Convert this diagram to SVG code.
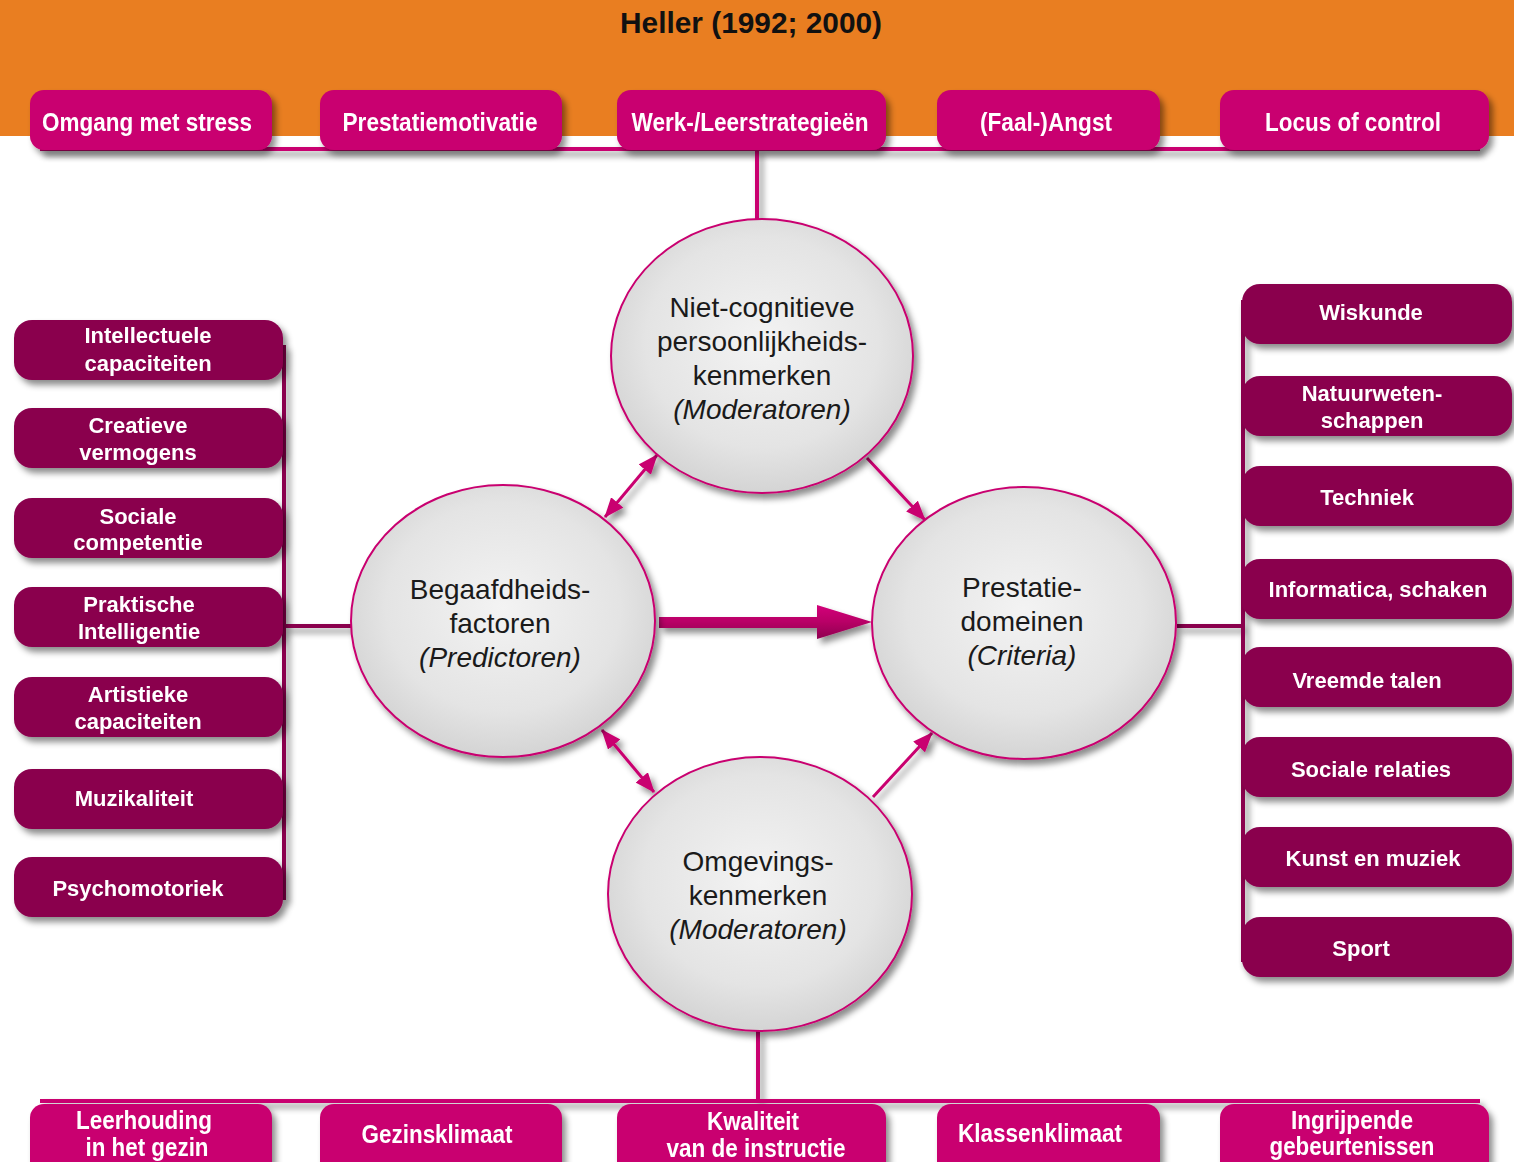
<svg xmlns="http://www.w3.org/2000/svg" width="1514" height="1162" viewBox="0 0 1514 1162">
<defs>
<style>
.hb{fill:#C9006F}
.db{fill:#8A004E}
.tt{font-family:"Liberation Sans",Arial,sans-serif;font-weight:bold;fill:#fff;font-size:25px;text-anchor:middle}
.dt{font-family:"Liberation Sans",Arial,sans-serif;font-weight:bold;fill:#fff;font-size:22px;text-anchor:middle}
.ct{font-family:"Liberation Sans",Arial,sans-serif;fill:#1a1a1a;font-size:28px;text-anchor:middle}
.it{font-style:italic}
.circ{fill:url(#cg);stroke:#C9006F;stroke-width:2}
.thin{stroke:#C9006F;stroke-width:3;fill:none}
</style>
<filter id="sh" x="-20%" y="-20%" width="150%" height="160%">
<feDropShadow dx="4" dy="5" stdDeviation="3" flood-color="#000" flood-opacity="0.45"/>
</filter>
<radialGradient id="cg" cx="0.5" cy="0.45" r="0.55">
<stop offset="0" stop-color="#f3f3f3"/>
<stop offset="0.7" stop-color="#e4e4e4"/>
<stop offset="1" stop-color="#d4d4d4"/>
</radialGradient>
<linearGradient id="ag" x1="0" y1="0" x2="0" y2="1">
<stop offset="0" stop-color="#d3007a"/>
<stop offset="0.5" stop-color="#b80066"/>
<stop offset="1" stop-color="#8e0050"/>
</linearGradient>
<marker id="ah" markerUnits="userSpaceOnUse" markerWidth="20" markerHeight="16" refX="19" refY="8" orient="auto-start-reverse">
<path d="M0,0 L20,8 L0,16 z" fill="#C9006F"/>
</marker>
</defs>

<rect x="0" y="0" width="1514" height="136" fill="#E97E21"/>
<text x="751" y="33" font-family="'Liberation Sans',Arial,sans-serif" font-weight="bold" font-size="30" fill="#111" text-anchor="middle" textLength="262" lengthAdjust="spacingAndGlyphs">Heller (1992; 2000)</text>

<g id="connectors">
<g filter="url(#sh)">
<line x1="40" y1="149" x2="1480" y2="149" stroke="#C9006F" stroke-width="4"/>
<line x1="757" y1="150" x2="757" y2="221" stroke="#C9006F" stroke-width="4"/>
<line x1="40" y1="1101" x2="1480" y2="1101" stroke="#C9006F" stroke-width="4"/>
<line x1="758" y1="1031" x2="758" y2="1101" stroke="#C9006F" stroke-width="4"/>
<line x1="284" y1="345" x2="284" y2="900" stroke="#8A004E" stroke-width="4"/>
<line x1="284" y1="626" x2="352" y2="626" stroke="#8A004E" stroke-width="4"/>
<line x1="1243" y1="300" x2="1243" y2="962" stroke="#8A004E" stroke-width="4"/>
<line x1="1177" y1="626" x2="1243" y2="626" stroke="#8A004E" stroke-width="4"/>
</g>
<g filter="url(#sh)">
<polygon points="659,617 817,617 817,605 872,622 817,639 817,628 659,628" fill="url(#ag)"/>
<line class="thin" x1="605" y1="517" x2="657" y2="455" marker-start="url(#ah)" marker-end="url(#ah)"/>
<line class="thin" x1="867" y1="458" x2="925" y2="520" marker-end="url(#ah)"/>
<line class="thin" x1="602" y1="730" x2="654" y2="792" marker-start="url(#ah)" marker-end="url(#ah)"/>
<line class="thin" x1="873" y1="797" x2="932" y2="733" marker-end="url(#ah)"/>
</g>
</g>

<g id="top-boxes" filter="url(#sh)">
<g id="t1"><rect class="hb" x="30" y="90" width="242" height="60" rx="14"/><text class="tt" x="147" y="131" textLength="210" lengthAdjust="spacingAndGlyphs">Omgang met stress</text></g>
<g id="t2"><rect class="hb" x="320" y="90" width="242" height="60" rx="14"/><text class="tt" x="440" y="131" textLength="195" lengthAdjust="spacingAndGlyphs">Prestatiemotivatie</text></g>
<g id="t3"><rect class="hb" x="617" y="90" width="269" height="60" rx="14"/><text class="tt" x="750" y="131" textLength="237" lengthAdjust="spacingAndGlyphs">Werk-/Leerstrategieën</text></g>
<g id="t4"><rect class="hb" x="937" y="90" width="223" height="60" rx="14"/><text class="tt" x="1046" y="131" textLength="132" lengthAdjust="spacingAndGlyphs">(Faal-)Angst</text></g>
<g id="t5"><rect class="hb" x="1220" y="90" width="269" height="60" rx="14"/><text class="tt" x="1353" y="131" textLength="176" lengthAdjust="spacingAndGlyphs">Locus of control</text></g>
</g>

<g id="bottom-boxes" filter="url(#sh)">
<g id="b1"><rect class="hb" x="30" y="1104" width="242" height="75" rx="14"/><text class="tt" x="144" y="1129" font-size="24" textLength="136" lengthAdjust="spacingAndGlyphs">Leerhouding</text><text class="tt" x="147" y="1156" font-size="24" textLength="123" lengthAdjust="spacingAndGlyphs">in het gezin</text></g>
<g id="b2"><rect class="hb" x="320" y="1104" width="242" height="75" rx="14"/><text class="tt" x="437" y="1143" font-size="24" textLength="151" lengthAdjust="spacingAndGlyphs">Gezinsklimaat</text></g>
<g id="b3"><rect class="hb" x="617" y="1104" width="269" height="75" rx="14"/><text class="tt" x="753" y="1130" font-size="24" textLength="92" lengthAdjust="spacingAndGlyphs">Kwaliteit</text><text class="tt" x="756" y="1157" font-size="24" textLength="179" lengthAdjust="spacingAndGlyphs">van de instructie</text></g>
<g id="b4"><rect class="hb" x="937" y="1104" width="223" height="75" rx="14"/><text class="tt" x="1040" y="1142" font-size="24" textLength="164" lengthAdjust="spacingAndGlyphs">Klassenklimaat</text></g>
<g id="b5"><rect class="hb" x="1220" y="1104" width="269" height="75" rx="14"/><text class="tt" x="1352" y="1129" font-size="24" textLength="122" lengthAdjust="spacingAndGlyphs">Ingrijpende</text><text class="tt" x="1352" y="1155" font-size="24" textLength="165" lengthAdjust="spacingAndGlyphs">gebeurtenissen</text></g>
</g>

<g id="left-boxes" filter="url(#sh)">
<g id="l1"><rect class="db" x="14" y="320" width="269" height="60" rx="18"/><text class="dt" x="148" y="343">Intellectuele</text><text class="dt" x="148" y="371">capaciteiten</text></g>
<g id="l2"><rect class="db" x="14" y="408" width="269" height="60" rx="18"/><text class="dt" x="138" y="433">Creatieve</text><text class="dt" x="138" y="460">vermogens</text></g>
<g id="l3"><rect class="db" x="14" y="498" width="269" height="60" rx="18"/><text class="dt" x="138" y="524">Sociale</text><text class="dt" x="138" y="550">competentie</text></g>
<g id="l4"><rect class="db" x="14" y="587" width="269" height="60" rx="18"/><text class="dt" x="139" y="612">Praktische</text><text class="dt" x="139" y="639">Intelligentie</text></g>
<g id="l5"><rect class="db" x="14" y="677" width="269" height="60" rx="18"/><text class="dt" x="138" y="702">Artistieke</text><text class="dt" x="138" y="729">capaciteiten</text></g>
<g id="l6"><rect class="db" x="14" y="769" width="269" height="60" rx="18"/><text class="dt" x="134" y="806">Muzikaliteit</text></g>
<g id="l7"><rect class="db" x="14" y="857" width="269" height="60" rx="18"/><text class="dt" x="138" y="896">Psychomotoriek</text></g>
</g>

<g id="right-boxes" filter="url(#sh)">
<g id="r1"><rect class="db" x="1242" y="284" width="270" height="60" rx="18"/><text class="dt" x="1371" y="320">Wiskunde</text></g>
<g id="r2"><rect class="db" x="1242" y="376" width="270" height="60" rx="18"/><text class="dt" x="1372" y="401">Natuurweten-</text><text class="dt" x="1372" y="428">schappen</text></g>
<g id="r3"><rect class="db" x="1242" y="466" width="270" height="60" rx="18"/><text class="dt" x="1367" y="505">Techniek</text></g>
<g id="r4"><rect class="db" x="1242" y="559" width="270" height="60" rx="18"/><text class="dt" x="1378" y="597">Informatica, schaken</text></g>
<g id="r5"><rect class="db" x="1242" y="647" width="270" height="60" rx="18"/><text class="dt" x="1367" y="688">Vreemde talen</text></g>
<g id="r6"><rect class="db" x="1242" y="737" width="270" height="60" rx="18"/><text class="dt" x="1371" y="777">Sociale relaties</text></g>
<g id="r7"><rect class="db" x="1242" y="827" width="270" height="60" rx="18"/><text class="dt" x="1373" y="866">Kunst en muziek</text></g>
<g id="r8"><rect class="db" x="1242" y="917" width="270" height="60" rx="18"/><text class="dt" x="1361" y="956">Sport</text></g>
</g>

<g id="c-top"><ellipse class="circ" cx="762" cy="356" rx="151" ry="137" filter="url(#sh)"/>
<text class="ct" x="762" y="317">Niet-cognitieve</text><text class="ct" x="762" y="351">persoonlijkheids-</text><text class="ct" x="762" y="385">kenmerken</text><text class="ct it" x="762" y="419">(Moderatoren)</text></g>
<g id="c-left"><ellipse class="circ" cx="503" cy="621" rx="152" ry="136" filter="url(#sh)"/>
<text class="ct" x="500" y="599">Begaafdheids-</text><text class="ct" x="500" y="633">factoren</text><text class="ct it" x="500" y="667">(Predictoren)</text></g>
<g id="c-right"><ellipse class="circ" cx="1024" cy="623" rx="152" ry="136" filter="url(#sh)"/>
<text class="ct" x="1022" y="597">Prestatie-</text><text class="ct" x="1022" y="631">domeinen</text><text class="ct it" x="1022" y="665">(Criteria)</text></g>
<g id="c-bottom"><ellipse class="circ" cx="760" cy="894" rx="152" ry="137" filter="url(#sh)"/>
<text class="ct" x="758" y="871">Omgevings-</text><text class="ct" x="758" y="905">kenmerken</text><text class="ct it" x="758" y="939">(Moderatoren)</text></g>
</svg>
